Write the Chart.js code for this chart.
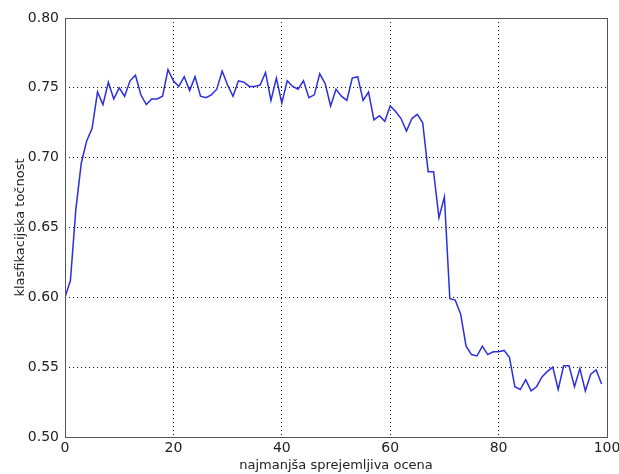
<!DOCTYPE html>
<html>
<head>
<meta charset="utf-8">
<script src="https://cdn.jsdelivr.net/npm/chart.js@4/dist/chart.umd.min.js"></script>
<style>
  html, body { margin: 0; padding: 0; background: #fff; }
  #wrap { width: 619px; height: 474px; }
</style>
</head>
<body>
<div id="wrap"><canvas id="c" width="619" height="474"></canvas></div>
<script>
// Minimum accepted score (x) and the resulting classification accuracy (y)
const minScore = [
  0, 1, 2, 3, 4, 5, 6, 7, 8, 9,
  10, 11, 12, 13, 14, 15, 16, 17, 18, 19,
  20, 21, 22, 23, 24, 25, 26, 27, 28, 29,
  30, 31, 32, 33, 34, 35, 36, 37, 38, 39,
  40, 41, 42, 43, 44, 45, 46, 47, 48, 49,
  50, 51, 52, 53, 54, 55, 56, 57, 58, 59,
  60, 61, 62, 63, 64, 65, 66, 67, 68, 69,
  70, 71, 72, 73, 74, 75, 76, 77, 78, 79,
  80, 81, 82, 83, 84, 85, 86, 87, 88, 89,
  90, 91, 92, 93, 94, 95, 96, 97, 98, 99
];
const accuracy = [
  0.600, 0.612, 0.663, 0.696, 0.712, 0.721, 0.747, 0.738, 0.754, 0.742,
  0.750, 0.744, 0.755, 0.759, 0.745, 0.738, 0.742, 0.742, 0.744, 0.763,
  0.755, 0.751, 0.758, 0.748, 0.758, 0.744, 0.743, 0.745, 0.749, 0.762,
  0.752, 0.744, 0.755, 0.754, 0.751, 0.751, 0.752, 0.761, 0.741, 0.757,
  0.739, 0.755, 0.751, 0.749, 0.755, 0.743, 0.745, 0.760, 0.753, 0.737,
  0.749, 0.744, 0.741, 0.757, 0.758, 0.741, 0.747, 0.727, 0.730, 0.726,
  0.737, 0.733, 0.728, 0.719, 0.728, 0.731, 0.725, 0.690, 0.690, 0.657,
  0.672, 0.599, 0.598, 0.588, 0.565, 0.559, 0.558, 0.565, 0.559, 0.561,
  0.561, 0.562, 0.557, 0.536, 0.534, 0.541, 0.533, 0.536, 0.543, 0.547,
  0.550, 0.534, 0.551, 0.551, 0.536, 0.549, 0.533, 0.545, 0.548, 0.538
];
const xTicks = [0, 20, 40, 60, 80, 100];
const yTicks = [0.50, 0.55, 0.60, 0.65, 0.70, 0.75, 0.80];
const xTitle = 'najmanjša sprejemljiva ocena';
const yTitle = 'klasfikacijska točnost';

const points = minScore.map((x, i) => ({ x: x, y: accuracy[i] }));

// Frame around the plotting area
const frame = {
  id: 'frame',
  afterDatasetsDraw(chart) {
    const a = chart.chartArea, ctx = chart.ctx;
    ctx.save();
    ctx.strokeStyle = '#555';
    ctx.lineWidth = 1;
    ctx.strokeRect(Math.round(a.left) + 0.5, Math.round(a.top) + 0.5,
                   Math.round(a.right - a.left), Math.round(a.bottom - a.top));
    ctx.restore();
  }
};

const tickFont = { family: 'DejaVu Sans', size: 14 };
const titleFont = { family: 'DejaVu Sans', size: 13 };

new Chart(document.getElementById('c'), {
  type: 'line',
  data: {
    datasets: [{
      data: points,
      borderColor: 'rgb(45,45,225)',
      borderWidth: 1.5,
      pointRadius: 0,
      tension: 0,
      fill: false
    }]
  },
  options: {
    responsive: false,
    animation: false,
    events: [],
    layout: { padding: { left: 13, right: 12, top: 18, bottom: 1 } },
    plugins: { legend: { display: false }, tooltip: { enabled: false } },
    scales: {
      x: {
        type: 'linear',
        min: 0, max: 100,
        afterBuildTicks(scale) { scale.ticks = xTicks.map(v => ({ value: v })); },
        afterFit(scale) { scale.height = 36; scale.paddingLeft = 0; scale.paddingRight = 0; },
        ticks: { font: tickFont, color: '#222', padding: 3, maxRotation: 0,
                 callback: v => String(v) },
        grid: { color: '#111', lineWidth: 1, drawTicks: false },
        border: { display: false, dash: [1, 3] },
        title: { display: true, text: xTitle, font: titleFont, color: '#222', padding: 0 }
      },
      y: {
        type: 'linear',
        min: 0.5, max: 0.8,
        afterBuildTicks(scale) { scale.ticks = yTicks.map(v => ({ value: v })); },
        afterFit(scale) { scale.width = 52; scale.paddingTop = 0; scale.paddingBottom = 0; },
        ticks: { font: tickFont, color: '#222', padding: 6,
                 callback: v => Number(v).toFixed(2) },
        grid: { color: '#111', lineWidth: 1, drawTicks: false },
        border: { display: false, dash: [1, 3] },
        title: { display: true, text: yTitle, font: titleFont, color: '#222', padding: 0 }
      }
    }
  },
  plugins: [frame]
});
</script>
</body>
</html>
